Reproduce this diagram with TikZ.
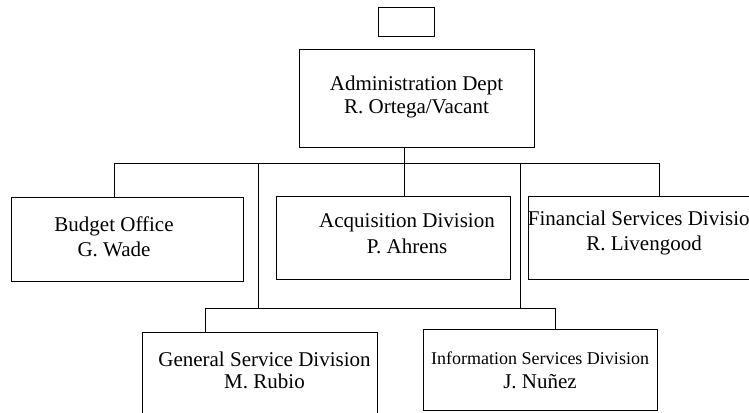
\documentclass[tikz,border=0pt]{standalone}
\usepackage{fontspec}
\setmainfont{Liberation Serif}
\usetikzlibrary{calc}

\tikzset{unit/.style={draw,line width=0.9pt,inner sep=0pt},
  lbl/.style={anchor=base,align=center,inner sep=0pt,font=\fontsize{21}{23}\selectfont}}

\begin{document}
\begin{tikzpicture}[x=1pt,y=-1pt,line width=0.9pt]
  \useasboundingbox (0,0) rectangle (749,412);
  \clip (0,0) rectangle (749,412);
  % boxes
  \node[unit,minimum width=56pt,minimum height=29pt] (top) at (406,21.5) {};
  \node[unit,minimum width=235pt,minimum height=98pt] (admin) at (416.5,98) {};
  \node[unit,minimum width=232pt,minimum height=84pt] (budget) at (127,239) {};
  \node[unit,minimum width=234pt,minimum height=83pt] (acq) at (393,237.5) {};
  \node[unit,minimum width=234pt,minimum height=83pt] (fin) at (645,237.5) {};
  \node[unit,minimum width=235pt,minimum height=88pt] (gen) at (259.5,376) {};
  \node[unit,minimum width=234pt,minimum height=81pt] (info) at (540,369.5) {};
  % texts (base = last line)
  \node[lbl] (t-admin) at (416.5,113) {Administration Dept\\R. Ortega/Vacant};
  \node[lbl,font=\fontsize{21}{25}\selectfont] (t-budget) at (114,256) {Budget Office\\G. Wade};
  \node[lbl,font=\fontsize{21}{26}\selectfont] (t-acq) at (407,253) {Acquisition Division\\P. Ahrens};
  \node[lbl,font=\fontsize{21}{25}\selectfont] (t-fin) at (644,250) {Financial Services Division\\R. Livengood};
  \node[lbl,font=\fontsize{21}{22}\selectfont] (t-gen) at (264.5,388) {General Service Division\\M. Rubio};
  \node[lbl,font=\fontsize{21}{24}\selectfont] (t-info) at (540,388) {{\fontsize{18}{24}\selectfont Information Services Division}\\J. Nuñez};
  % lines
  \coordinate (hub) at (404,163);
  \coordinate (busL) at (114,163);
  \coordinate (busR) at (659,163);
  \coordinate (up1) at (258,163);
  \coordinate (up2) at (520,163);
  \coordinate (lowL) at (205,308);
  \coordinate (lowR) at (555,308);
  \draw (admin.south -| hub) -- (acq.north -| hub);
  \draw (budget.north -| busL) -- (busL) -- (busR) -- (fin.north -| busR);
  \draw (up1) -- (up1 |- lowL);
  \draw (up2) -- (up2 |- lowR);
  \draw (gen.north -| lowL) -- (lowL) -- (lowR) -- (info.north -| lowR);
\end{tikzpicture}
\end{document}
